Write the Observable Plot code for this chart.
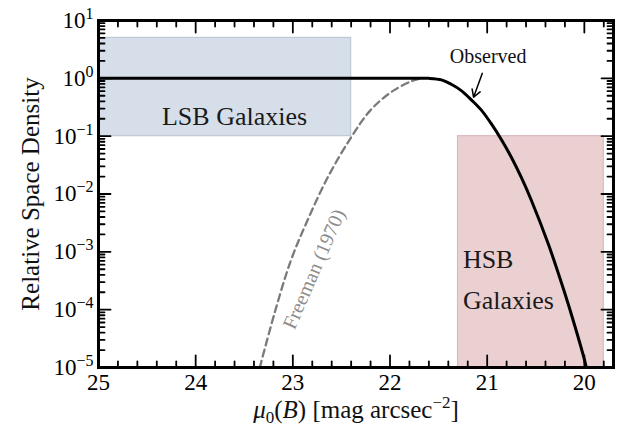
<!DOCTYPE html>
<html><head><meta charset="utf-8">
<script src="https://cdn.jsdelivr.net/npm/d3@7"></script>
<script src="https://cdn.jsdelivr.net/npm/@observablehq/plot@0.6"></script>
<style>body{margin:0;background:#fff}</style>
</head><body><div id="chart"></div>
<script>
// Observed distribution (mag arcsec^-2 -> relative density)
const observedMag = [25, 24, 23, 22, 21.7, 21.6, 21.47, 21.37, 21.27, 21.16, 21.06, 20.96, 20.85, 20.75, 20.65, 20.55, 20.37, 20.21, 20.10, 20.00, 19.98];
const observedDensity = [1, 1, 1, 1, 1, 1, 0.94, 0.79, 0.62, 0.42, 0.282, 0.166, 0.0851, 0.0427, 0.0195, 0.00813, 1.35e-3, 2.14e-4, 5.37e-5, 1.38e-5, 1e-5];
// Freeman (1970)
const freemanMag = [23.34, 23.19, 23.02, 22.85, 22.64, 22.40, 22.20, 21.99, 21.78, 21.68];
const freemanDensity = [1e-5, 8.5e-5, 7.1e-4, 3.47e-3, 0.0195, 0.0955, 0.282, 0.575, 0.891, 1.0];
// shaded regions
const regionNames = ["LSB", "HSB"];
const regionMagFrom = [25, 21.3];
const regionMagTo = [22.4, 19.8];
const regionDensityLow = [0.1, 1e-5];
const regionDensityHigh = [5, 0.1];
// ticks
const xMajorTicks = [25, 24, 23, 22, 21, 20];
const xMajorLabels = ["25", "24", "23", "22", "21", "20"];
const xMinorTicks = [24.8, 24.6, 24.4, 24.2, 23.8, 23.6, 23.4, 23.2, 22.8, 22.6, 22.4, 22.2, 21.8, 21.6, 21.4, 21.2, 20.8, 20.6, 20.4, 20.2, 19.8];
const yMajorTicks = [1e-5, 1e-4, 1e-3, 1e-2, 1e-1, 1, 10];
const yMajorExponents = ["−5", "−4", "−3", "−2", "−1", "0", "1"];
const yMinorTicks = [];
for (const d of yMajorTicks.slice(0, -1)) for (let m = 2; m <= 9; m++) yMinorTicks.push(d * m);
// annotations
const lsbNote = {text: "LSB Galaxies", mag: 23.60, density: 0.214};
const hsbText = ["HSB", "Galaxies"];
const hsbMag = [21.25, 21.25];
const hsbDensity = [7.4e-4, 1.45e-4];
const observedNote = {text: "Observed", mag: 20.99, density: 2.4};
const arrowFrom = {mag: 21.05, density: 1.22};
const arrowTo = {mag: 21.14, density: 0.47};
const freemanNote = {text: "Freeman (1970)", mag: 22.78, density: 5.0e-4, angle: -66.5};
const xTitle = "μ0(B) [mag arcsec-2]";
const yTitle = "Relative Space Density";

const regions = regionNames.map((n, i) => ({name: n, x1: regionMagFrom[i], x2: regionMagTo[i], y1: regionDensityLow[i], y2: regionDensityHigh[i]}));
const observed = observedMag.map((m, i) => ({m, d: observedDensity[i]}));
const freeman = freemanMag.map((m, i) => ({m, d: freemanDensity[i]}));
const hsbNotes = hsbText.map((t, i) => ({t, m: hsbMag[i], d: hsbDensity[i]}));

const tickLine = {draw(context, l) { context.moveTo(0, 0); context.lineTo(0, -l); }};
const tickSet = (vals, axis, anchor, rotate, len) => Plot.vector(vals, {
  [axis]: d => d, frameAnchor: anchor, rotate, length: len, anchor: "start",
  shape: tickLine, stroke: "black", strokeWidth: 1.8
});

const plot = Plot.plot({
  width: 630, height: 431,
  marginLeft: 98, marginRight: 17, marginTop: 20, marginBottom: 64,
  style: {fontFamily: "'Liberation Serif', 'DejaVu Serif', serif", fontSize: "23px", background: "white", color: "black"},
  x: {domain: [25, 19.7], label: null},
  y: {type: "log", domain: [1e-5, 10], label: null},
  marks: [
    Plot.rect(regions, {x1: "x1", x2: "x2", y1: "y1", y2: "y2",
      fill: d => d.name === "LSB" ? "#d6dee9" : "#ebd0d2",
      stroke: d => d.name === "LSB" ? "#bfc8d4" : "#d9b9bc", strokeWidth: 1.2}),
    Plot.line(freeman, {x: "m", y: "d", stroke: "#7a7a7a", strokeWidth: 2.3, strokeDasharray: "7,4.5", curve: "catmull-rom"}),
    Plot.line(observed, {x: "m", y: "d", stroke: "black", strokeWidth: 3, curve: "catmull-rom"}),
    Plot.text([lsbNote], {x: "mag", y: "density", text: "text", fontSize: 26, fill: "#1a1a1a", textAnchor: "middle"}),
    Plot.text(hsbNotes, {x: "m", y: "d", text: "t", fontSize: 26, fill: "#1a1a1a", textAnchor: "start"}),
    Plot.text([observedNote], {x: "mag", y: "density", text: "text", fontSize: 20, fill: "#111"}),
    Plot.arrow([0], {x1: arrowFrom.mag, y1: arrowFrom.density, x2: arrowTo.mag, y2: arrowTo.density,
      stroke: "black", strokeWidth: 1.5, headLength: 9, bend: 0}),
    Plot.text([freemanNote], {x: "mag", y: "density", text: "text", rotate: freemanNote.angle, fontSize: 20, fill: "#8c8c8c"}),
    Plot.axisX({ticks: xMajorTicks, tickSize: 0, tickPadding: 6, fontSize: 23, label: null,
      tickFormat: d => xMajorLabels[xMajorTicks.indexOf(d)]}),
    Plot.axisY({ticks: yMajorTicks, tickSize: 0, tickPadding: 5, fontSize: 23, label: null,
      tickFormat: d => "10^" + yMajorExponents[yMajorTicks.indexOf(d)]}),
    tickSet(xMajorTicks, "x", "bottom", 0, 12),
    tickSet(xMinorTicks, "x", "bottom", 0, 6),
    tickSet(xMajorTicks, "x", "top", 180, 12),
    tickSet(xMinorTicks, "x", "top", 180, 6),
    tickSet(yMajorTicks, "y", "left", 90, 12),
    tickSet(yMinorTicks, "y", "left", 90, 6),
    tickSet(yMajorTicks, "y", "right", -90, 12),
    tickSet(yMinorTicks, "y", "right", -90, 6),
    Plot.text([yTitle], {frameAnchor: "left", dx: -68, rotate: -90, textAnchor: "middle", fontSize: 25, fill: "#111"}),
    Plot.text([xTitle], {frameAnchor: "bottom", dy: 50, textAnchor: "middle", fontSize: 25, fill: "#111"}),
    Plot.frame({stroke: "black", strokeWidth: 3})
  ]
});

const NS = "http://www.w3.org/2000/svg";
function span(parent, txt, attrs = {}) {
  const t = document.createElementNS(NS, "tspan");
  for (const k in attrs) t.setAttribute(k, attrs[k]);
  t.textContent = txt;
  parent.appendChild(t);
  return t;
}
plot.querySelectorAll("text").forEach(el => {
  const s = el.textContent;
  const m = /^10\^(.+)$/.exec(s);
  if (m) {
    el.textContent = "";
    span(el, "10");
    span(el, m[1], {"font-size": "16px", dy: "-9"});
  } else if (s === xTitle) {
    el.textContent = "";
    span(el, "μ", {"font-style": "italic"});
    span(el, "0", {"font-size": "17px", dy: "5"});
    span(el, "(", {dy: "-5"});
    span(el, "B", {"font-style": "italic"});
    span(el, ") [mag arcsec");
    span(el, "−2", {"font-size": "17px", dy: "-10"});
    span(el, "]", {dy: "10"});
  }
});
document.getElementById("chart").appendChild(plot);
</script>
</body></html>
